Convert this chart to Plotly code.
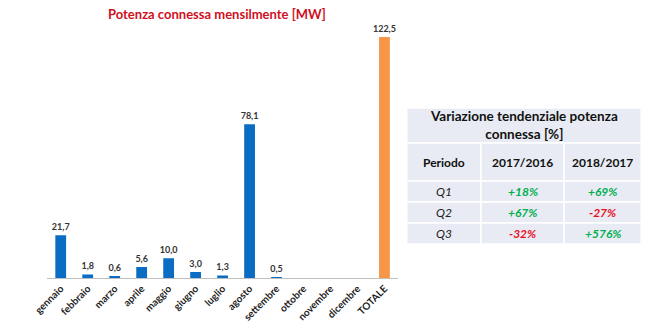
import plotly.graph_objects as go

# Monthly connected power [MW]
categories = ["gennaio", "febbraio", "marzo", "aprile", "maggio", "giugno", "luglio",
              "agosto", "settembre", "ottobre", "novembre", "dicembre", "TOTALE"]
values = [21.7, 1.8, 0.6, 5.6, 10.0, 3.0, 1.3, 78.1, 0.5, None, None, None, 122.5]

# Year-on-year change table
table_title = "Variazione tendenziale potenza<br>connessa [%]"
table_header = ["Periodo", "2017/2016", "2018/2017"]
periods = ["Q1", "Q2", "Q3"]
change_2017_2016 = ["+18%", "+67%", "-32%"]
change_2018_2017 = ["+69%", "-27%", "+576%"]

W, H = 650, 327
BLUE = "#0A6CC2"
ORANGE = "#F79646"
GREEN = "#00B050"
RED = "#E8101E"
TITLE_RED = "#D0101E"
FONT = "Lato"

bar_colors = [ORANGE if c == "TOTALE" else BLUE for c in categories]
bar_text = ["" if v is None else f"{v:.1f}".replace(".", ",") for v in values]

fig = go.Figure()
fig.add_trace(go.Bar(
    x=categories, y=[0 if v is None else v for v in values],
    marker=dict(color=bar_colors, line=dict(width=0)),
    width=0.4,
    text=bar_text, textposition="outside", cliponaxis=False,
    constraintext="none",
    textfont=dict(family=FONT, size=9, color="#333333", weight="bold"),
    hoverinfo="skip",
))

def px_x(p):
    return p / W

def px_y(p):
    return 1 - p / H

fig.update_layout(
    width=W, height=H,
    margin=dict(l=0, r=0, t=0, b=0),
    paper_bgcolor="white", plot_bgcolor="white",
    showlegend=False,
    separators=", ",
    font=dict(family=FONT, color="#222222"),
    xaxis=dict(
        domain=[px_x(33), px_x(392)],
        tickangle=-45, showgrid=False, zeroline=False,
        showline=True, linecolor="#BFBFBF", linewidth=1,
        ticks="", tickfont=dict(family=FONT, size=10, color="#222222", weight="bold"),
    ),
    yaxis=dict(
        domain=[px_y(278), px_y(30)], range=[0, 126],
        visible=False, showgrid=False, zeroline=False,
    ),
)

annotations = [dict(
    x=px_x(207), y=px_y(14), xref="paper", yref="paper",
    text="<b>Potenza connessa mensilmente [MW]</b>", showarrow=False,
    font=dict(family=FONT, size=13, color=TITLE_RED),
    xanchor="center", yanchor="middle",
)]
shapes = []

# Table geometry (pixels)
col_edges = [401, 477, 562, 641]
row_edges = [108, 143, 181, 202, 223, 244]
cell_fill = "#E8EBF3"

def cell(x0, x1, y0, y1):
    shapes.append(dict(
        type="rect", xref="paper", yref="paper",
        x0=px_x(x0), x1=px_x(x1), y0=px_y(y1), y1=px_y(y0),
        fillcolor=cell_fill, line=dict(color="white", width=1.5), layer="below",
    ))

def label(x0, x1, y0, y1, text, size, color="#111111"):
    annotations.append(dict(
        x=px_x((x0 + x1) / 2), y=px_y((y0 + y1) / 2), xref="paper", yref="paper",
        text=text, showarrow=False, xanchor="center", yanchor="middle",
        font=dict(family=FONT, size=size, color=color),
    ))

# Title row spans all columns
cell(col_edges[0], col_edges[-1], row_edges[0], row_edges[1])
label(col_edges[0], col_edges[-1], row_edges[0], row_edges[1], f"<b>{table_title}</b>", 13.5)

# Header row
for j, h in enumerate(table_header):
    cell(col_edges[j], col_edges[j + 1], row_edges[1], row_edges[2])
    label(col_edges[j], col_edges[j + 1], row_edges[1], row_edges[2], f"<b>{h}</b>", 12)

def change_color(s):
    return GREEN if s.startswith("+") else RED

for i, p in enumerate(periods):
    y0, y1 = row_edges[i + 2], row_edges[i + 3]
    row = [p, change_2017_2016[i], change_2018_2017[i]]
    for j, v in enumerate(row):
        cell(col_edges[j], col_edges[j + 1], y0, y1)
        if j == 0:
            label(col_edges[j], col_edges[j + 1], y0, y1, f"<i>{v}</i>", 12, "#222222")
        else:
            label(col_edges[j], col_edges[j + 1], y0, y1, f"<b><i>{v}</i></b>", 12, change_color(v))

fig.update_layout(annotations=annotations, shapes=shapes)
fig.write_html("out.html")
